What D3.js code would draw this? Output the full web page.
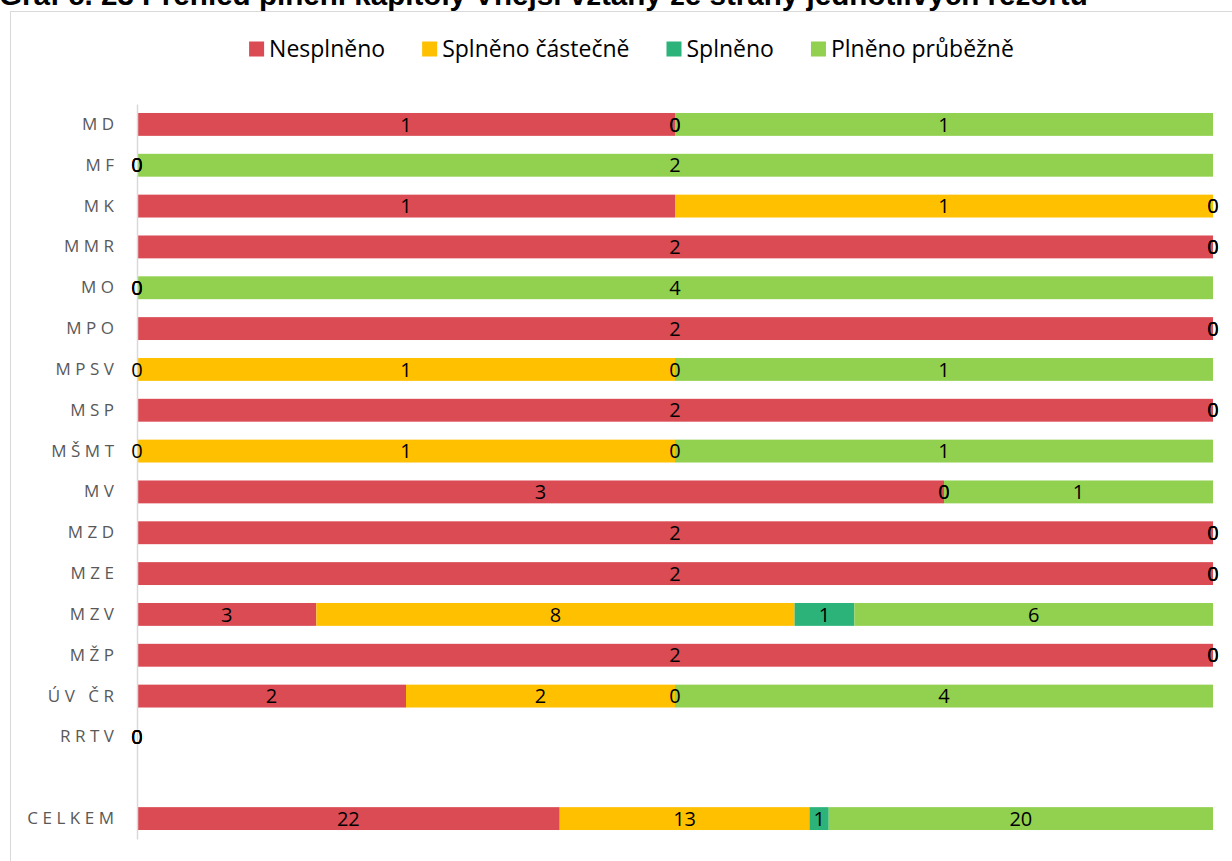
<!DOCTYPE html>
<html>
<head>
<meta charset="utf-8">
<script src="https://cdn.jsdelivr.net/npm/d3@7"></script>
<style>
  html, body { margin: 0; padding: 0; background: #fff; }
  svg { display: block; }
</style>
</head>
<body>
<svg id="chart" width="1232" height="861"></svg>
<script>
const title = "Graf č. 23 Přehled plnění kapitoly Vnější vztahy ze strany jednotlivých rezortů";
const categories = ["MD","MF","MK","MMR","MO","MPO","MPSV","MSP","MŠMT","MV","MZD","MZE","MZV","MŽP","ÚV ČR","RRTV","","CELKEM"];
const seriesNames = ["Nesplněno","Splněno částečně","Splněno","Plněno průběžně"];
const seriesColors = ["#DA4B53","#FFC000","#2BB37A","#92D050"];
const nesplneno       = [1,0,1,2,0,2,0,2,0,3,2,2,3,2,2,0,null,22];
const splnenoCastecne = [0,0,1,0,0,0,1,0,1,0,0,0,8,0,2,0,null,13];
const splneno         = [0,0,0,0,0,0,0,0,0,0,0,0,1,0,0,0,null,1];
const plnenoPrubezne  = [1,2,0,0,4,0,1,0,1,1,0,0,6,0,4,0,null,20];
const seriesValues = [nesplneno, splnenoCastecne, splneno, plnenoPrubezne];

const svg = d3.select("#chart");

// outer frame
svg.append("rect").attr("x", 10.5).attr("y", 11.5).attr("width", 1240).attr("height", 900)
  .attr("fill", "none").attr("stroke", "#d9d9d9").attr("stroke-width", 1);

// title (clipped at top like the reference)
svg.append("text").attr("x", -1).attr("y", 5)
  .attr("font-family", "Liberation Sans, Arial, sans-serif").attr("font-weight", "bold")
  .attr("font-size", 29.6).attr("fill", "#000").text(title);

const x = d3.scaleLinear().domain([0, 1]).range([137, 1213]);
const y = d3.scaleBand().domain(d3.range(categories.length)).range([104, 839])
  .paddingInner(0.44).paddingOuter(0.22);

// build stacked data (100% stacked)
const rows = categories.map((c, i) => {
  const vals = seriesValues.map(s => s[i]);
  const total = d3.sum(vals.map(v => v || 0));
  let acc = 0;
  const segs = vals.map((v, k) => {
    const p = (v == null || total === 0) ? 0 : v / total;
    const seg = { k, v, x0: acc, x1: acc + p };
    acc += p;
    return seg;
  });
  return { i, c, segs, blank: vals.every(v => v == null) };
});

const gBars = svg.append("g");
rows.forEach(r => {
  if (r.blank) return;
  gBars.selectAll(null).data(r.segs.filter(s => s.x1 > s.x0)).enter().append("rect")
    .attr("x", s => x(s.x0)).attr("width", s => x(s.x1) - x(s.x0))
    .attr("y", y(r.i)).attr("height", y.bandwidth())
    .attr("fill", s => seriesColors[s.k]);
});

// axis
const axis = d3.axisLeft(y).tickSize(0).tickPadding(18.5).tickFormat(i => categories[i]);
const gAxis = svg.append("g").attr("transform", `translate(${x(0)},0)`).call(axis);
gAxis.select(".domain").attr("stroke", "#d9d9d9").attr("stroke-width", 1.5);
gAxis.selectAll("text").attr("font-family", "Open Sans, Noto Sans, sans-serif")
  .attr("font-size", 17).attr("fill", "#595959").attr("letter-spacing", "4.5px");

// data labels
const gLab = svg.append("g");
rows.forEach(r => {
  if (r.blank) return;
  gLab.selectAll(null).data(r.segs.filter(s => s.v != null)).enter().append("text")
    .attr("x", s => x((s.x0 + s.x1) / 2))
    .attr("y", y(r.i) + y.bandwidth() / 2)
    .attr("dy", "0.36em")
    .attr("text-anchor", "middle")
    .attr("font-family", "Open Sans, Noto Sans, sans-serif")
    .attr("font-size", 20).attr("fill", "#000")
    .text(s => s.v);
});

// legend
const gLeg = svg.append("g");
let lx = 0;
seriesNames.forEach((n, k) => {
  const g = gLeg.append("g").attr("transform", `translate(${lx},0)`);
  g.append("rect").attr("x", 0).attr("y", -7.5).attr("width", 15).attr("height", 15).attr("fill", seriesColors[k]);
  const t = g.append("text").attr("x", 20).attr("y", 0).attr("dy", "0.35em")
    .attr("font-family", "Open Sans, Noto Sans, sans-serif").attr("font-size", 23).attr("fill", "#000").text(n);
  lx += 20 + t.node().getComputedTextLength() + 37;
});
const legW = lx - 37;
gLeg.attr("transform", `translate(${(248 + 1015) / 2 - legW / 2},49)`);
</script>
</body>
</html>
